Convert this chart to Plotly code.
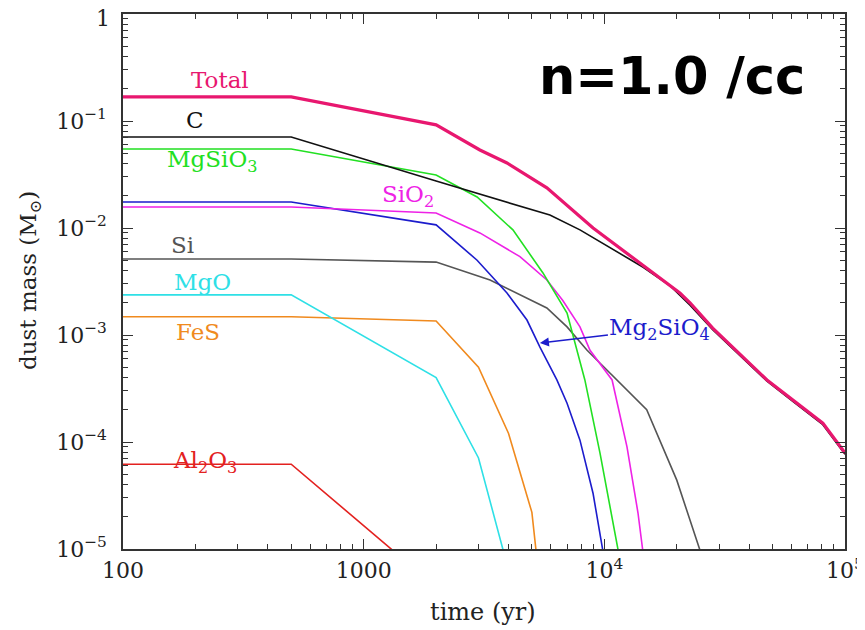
import plotly.graph_objects as go
import numpy as np

# ---- data (time in yr, mass in Msun) ----
total_t = [100, 500, 2000, 3040, 3940, 5770, 8980, 14060, 20600, 22700, 28200, 47400, 60700, 80900, 100000]
total_m = [0.168, 0.168, 0.092, 0.0536, 0.0405, 0.0237, 0.0100, 0.0047, 0.00247, 0.0020, 1.16e-3, 3.8e-4, 2.47e-4, 1.5e-4, 7.9e-5]

c_t = [100, 500, 2000, 5940, 7920, 14500, 18700, 22700, 28200, 47400, 60700, 80900, 100000]
c_m = [0.0708, 0.0708, 0.0275, 0.0132, 0.0096, 0.0043, 0.0029, 0.0019, 1.12e-3, 3.7e-4, 2.4e-4, 1.45e-4, 7.7e-5]

mgsio3_t = [100, 500, 2000, 2960, 4170, 5560, 7000, 7700, 8300, 9590, 11600]
mgsio3_m = [0.0547, 0.0547, 0.0313, 0.0195, 0.0096, 0.0038, 1.6e-3, 7.2e-4, 3.8e-4, 7.9e-5, 8e-6]

sio2_t = [100, 500, 2000, 3040, 4460, 5770, 6720, 7920, 8720, 10770, 12420, 13800, 14600]
sio2_m = [0.0157, 0.0157, 0.0138, 0.0090, 5.4e-3, 3.27e-3, 2.1e-3, 1.19e-3, 7.2e-4, 3.8e-4, 9e-5, 2.17e-5, 8e-6]

mg2sio4_t = [100, 500, 2000, 2960, 3940, 4770, 5400, 6350, 7000, 7920, 8980, 10000]
mg2sio4_m = [0.0175, 0.0175, 0.0107, 5.0e-3, 2.47e-3, 1.38e-3, 7.7e-4, 3.8e-4, 2.3e-4, 1.04e-4, 3.3e-5, 8e-6]

si_t = [100, 500, 2000, 3350, 5770, 7000, 8480, 11270, 15000, 20000, 25700]
si_m = [5.13e-3, 5.13e-3, 4.8e-3, 3.27e-3, 1.79e-3, 1.19e-3, 7.2e-4, 3.8e-4, 2.0e-4, 4.4e-5, 8e-6]

mgo_t = [100, 500, 2000, 3000, 3950]
mgo_m = [2.37e-3, 2.37e-3, 4.0e-4, 7.1e-5, 7e-6]

fes_t = [100, 500, 2000, 3000, 4000, 5000, 5250]
fes_m = [1.48e-3, 1.48e-3, 1.35e-3, 5.0e-4, 1.2e-4, 2.2e-5, 8e-6]

al2o3_t = [100, 500, 2000]
al2o3_m = [6.2e-5, 6.2e-5, 4.4e-6]

# y tick at 1 is written as an annotation (nudged down so it is not clipped)
y_tickvals = [1e-5, 1e-4, 1e-3, 1e-2, 1e-1, 1]
y_ticktext = ["10<sup>−5</sup>", "10<sup>−4</sup>", "10<sup>−3</sup>", "10<sup>−2</sup>", "10<sup>−1</sup>", " "]
y_top_label = "1"
x_tickvals = [100, 1000, 1e4, 1e5]
x_ticktext = ["100", "1000", "10<sup>4</sup>", "10<sup>5</sup>"]

x_minor = [m * 10.0 ** d for d in range(2, 5) for m in range(2, 10)]
y_minor = [m * 10.0 ** d for d in range(-5, 0) for m in range(2, 10)]

SERIF = "DejaVu Serif"
INK = "#222222"

series = [
    ("Al2O3", al2o3_t, al2o3_m, "#e3211f", 1.6),
    ("FeS", fes_t, fes_m, "#f08a1e", 1.6),
    ("MgO", mgo_t, mgo_m, "#2ee0e6", 1.6),
    ("Si", si_t, si_m, "#555555", 1.6),
    ("Mg2SiO4", mg2sio4_t, mg2sio4_m, "#1c1ccc", 1.6),
    ("SiO2", sio2_t, sio2_m, "#ee22e6", 1.6),
    ("MgSiO3", mgsio3_t, mgsio3_m, "#22e022", 1.6),
    ("C", c_t, c_m, "#111111", 1.6),
    ("Total", total_t, total_m, "#e8176f", 3.2),
]

fig = go.Figure()
for name, t, m, col, w in series:
    fig.add_trace(go.Scatter(x=t, y=m, mode="lines", name=name,
                             line=dict(color=col, width=w), showlegend=False))

labels = [
    ("Total", 2.403, -0.617, "#e8176f"),
    ("C", 2.299, -0.991, "#111111"),
    ("MgSiO<sub>3</sub>", 2.37, -1.37, "#22e022"),
    ("SiO<sub>2</sub>", 3.184, -1.70, "#ee22e6"),
    ("Si", 2.249, -2.159, "#555555"),
    ("MgO", 2.332, -2.505, "#2ee0e6"),
    ("FeS", 2.311, -2.972, "#f08a1e"),
    ("Al<sub>2</sub>O<sub>3</sub>", 2.341, -4.19, "#e3211f"),
]
for txt, lx, ly, col in labels:
    fig.add_annotation(x=lx, y=ly, text=txt, showarrow=False,
                       font=dict(family=SERIF, size=23, color=col))

fig.add_annotation(x=np.log10(5400), y=-3.075, ax=120, ay=-14,
                   text="Mg<sub>2</sub>SiO<sub>4</sub>", showarrow=True,
                   arrowhead=2, arrowsize=1.2, arrowwidth=1.5, arrowcolor="#1c1ccc",
                   font=dict(family=SERIF, size=23, color="#1c1ccc"))

fig.add_annotation(xref="paper", yref="paper", x=(672 - 123) / 722, y=(549 - 77) / 535,
                   xanchor="center", yanchor="middle",
                   text="<b>n=1.0 /cc</b>", showarrow=False,
                   font=dict(family="DejaVu Sans", size=51, color="#000000"))

# top y tick label
fig.add_annotation(xref="paper", yref="paper", x=0, y=1, xanchor="right", yanchor="middle",
                   xshift=-11, yshift=-4, text=y_top_label, showarrow=False,
                   font=dict(family=SERIF, size=22, color=INK))

# axis titles
fig.add_annotation(xref="paper", yref="paper", x=(483 - 123) / 722, y=(549 - 612) / 535,
                   xanchor="center", yanchor="middle",
                   text="time (yr)", showarrow=False,
                   font=dict(family=SERIF, size=24, color=INK))
fig.add_annotation(xref="paper", yref="paper", x=(30 - 123) / 722, y=(549 - 281) / 535,
                   xanchor="center", yanchor="middle",
                   text="dust mass (M<sub>⊙</sub>)", showarrow=False, textangle=-90,
                   font=dict(family=SERIF, size=23, color=INK))

axis_common = dict(
    type="log", showgrid=False, zeroline=False, showline=True, linecolor="#333333",
    linewidth=1.5, mirror="ticks", ticks="inside", ticklen=10, tickwidth=1.2,
    tickcolor="#333333", automargin=False, ticklabeloverflow="allow",
    tickfont=dict(family=SERIF, size=22, color=INK),
)

fig.update_xaxes(**axis_common, range=[2, 5], tickvals=x_tickvals, ticktext=x_ticktext,
                 ticklabelstandoff=1,
                 minor=dict(ticks="inside", ticklen=5, tickwidth=1.2, tickcolor="#333333",
                            showgrid=False, tickvals=x_minor))
fig.update_yaxes(**axis_common, range=[-5, 0], tickvals=y_tickvals, ticktext=y_ticktext,
                 ticklabelstandoff=10,
                 minor=dict(ticks="inside", ticklen=5, tickwidth=1.2, tickcolor="#333333",
                            showgrid=False, tickvals=y_minor))

# page has an 8px body margin, so the figure is sized to fit inside the window
fig.update_layout(width=857, height=622, margin=dict(l=115, r=20, t=6, b=81),
                  plot_bgcolor="white", paper_bgcolor="white")

fig.write_html("out.html")
